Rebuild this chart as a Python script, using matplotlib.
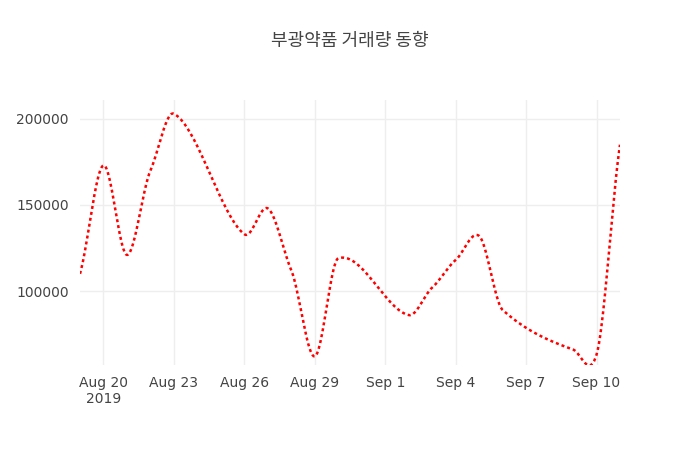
import numpy as np
import pandas as pd
import matplotlib
matplotlib.use("Agg")
import matplotlib.pyplot as plt
import matplotlib.dates as mdates
from matplotlib import font_manager

dates = pd.to_datetime([
    "2019-08-19", "2019-08-20", "2019-08-21", "2019-08-22", "2019-08-23",
    "2019-08-26", "2019-08-27", "2019-08-28", "2019-08-29", "2019-08-30",
    "2019-09-02", "2019-09-03", "2019-09-04", "2019-09-05", "2019-09-06",
    "2019-09-09", "2019-09-10", "2019-09-11"])
volume = [110000, 173000, 121000, 170000, 203000,
          133000, 148000, 112000, 62000, 119000,
          86000, 102000, 118000, 132000, 89000,
          66000, 63000, 185000]

title = "부광약품 거래량 동향"

# smooth curve through the points (cardinal spline, like plotly's spline shape)
x = mdates.date2num(dates)
y = np.array(volume, dtype=float)
tension = 0.75
xs, ys = [], []
def slope(k):
    if k == 0:
        return (y[1] - y[0]) / (x[1] - x[0])
    if k == len(x) - 1:
        return (y[-1] - y[-2]) / (x[-1] - x[-2])
    return (y[k + 1] - y[k - 1]) / (x[k + 1] - x[k - 1])
for i in range(len(x) - 1):
    x0, x1 = x[i], x[i + 1]
    y0, y1 = y[i], y[i + 1]
    m0, m1 = tension * slope(i), tension * slope(i + 1)
    h = x1 - x0
    t = np.linspace(0, 1, 40)
    h00 = 2 * t**3 - 3 * t**2 + 1
    h10 = t**3 - 2 * t**2 + t
    h01 = -2 * t**3 + 3 * t**2
    h11 = t**3 - t**2
    xs.extend(x0 + t * h)
    ys.extend(h00 * y0 + h10 * h * m0 + h01 * y1 + h11 * h * m1)

# find a CJK font file and register it
kr_font = "DejaVu Sans"
for f in font_manager.findSystemFonts():
    if "CJK" in f or "cjk" in f.lower():
        font_manager.fontManager.addfont(f)
        kr_font = font_manager.FontProperties(fname=f).get_name()
        if "KR" in kr_font:
            break

fig = plt.figure(figsize=(7, 4.5), dpi=100)
ax = fig.add_axes([80 / 700, 85 / 450, 540 / 700, 265 / 450])
ax.plot(xs, ys, color="red", linestyle=(0, (1.2, 1.2)), linewidth=1.8)
ax.set_xlim(x[0], x[-1])
ax.set_ylim(57000, 211000)
ax.set_yticks([100000, 150000, 200000])
ax.yaxis.set_major_formatter(matplotlib.ticker.FuncFormatter(lambda v, p: f"{int(v)}"))
ticks = pd.to_datetime(["2019-08-20", "2019-08-23", "2019-08-26", "2019-08-29",
                        "2019-09-01", "2019-09-04", "2019-09-07", "2019-09-10"])
ax.set_xticks(mdates.date2num(ticks))
labels = [f"{d:%b} {d.day}" for d in ticks]
labels[0] += "\n2019"
ax.set_xticklabels(labels)
ax.grid(color="#eeeeee", linewidth=1)
for s in ax.spines.values():
    s.set_visible(False)
ax.tick_params(length=0, labelsize=10, colors="#444444", pad=8)
fig.suptitle(title, y=0.93, fontsize=13, color="#444444", family=kr_font)
fig.savefig("out.png")
